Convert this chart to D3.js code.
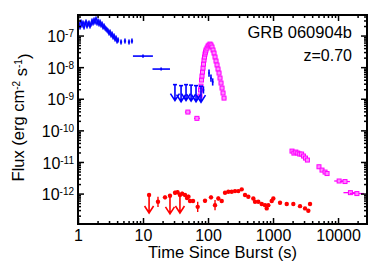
<!DOCTYPE html>
<html>
<head>
<meta charset="utf-8">
<script src="https://cdn.jsdelivr.net/npm/d3@7"></script>
<style>
body { margin: 0; background: #fff; }
text { font-family: "Liberation Sans", Arial, Helvetica, sans-serif; }
</style>
</head>
<body>
<script>
// ---- data ----
// early blue light curve (crosses)
var blueT = [1.036, 1.074, 1.112, 1.152, 1.194, 1.237, 1.282, 1.328, 1.376, 1.426, 1.477, 1.53, 1.586, 1.643, 1.702, 1.764, 1.827, 1.893, 1.962, 2.033,
             2.106, 2.182, 2.261, 2.343, 2.427, 2.515, 2.606, 2.7, 2.797, 2.898, 3.003, 3.111, 3.224, 3.34, 3.461, 3.586, 3.715, 3.849, 3.988, 4.132,
             4.59, 5.28, 6.09, 6.76];
var blueF = [2.31e-7, 1.86e-7, 2.67e-7, 2.15e-7, 2.49e-7, 1.86e-7, 2.31e-7, 2.67e-7, 2.0e-7, 2.31e-7, 2.49e-7, 2.0e-7, 2.31e-7, 2.88e-7, 2.49e-7, 3.09e-7, 2.67e-7, 3.33e-7, 2.49e-7, 2.88e-7,
             2.31e-7, 2.67e-7, 2.15e-7, 2.31e-7, 1.86e-7, 2.0e-7, 1.73e-7, 1.61e-7, 1.49e-7, 1.39e-7, 1.2e-7, 1.29e-7, 1.04e-7, 1.12e-7, 8.99e-8, 9.67e-8, 7.77e-8, 8.36e-8, 6.71e-8, 7.22e-8,
             6.24e-8, 6.71e-8, 6.24e-8, 6.71e-8];
var blueXe = 1.04, blueYe = 1.2;
var blueWideT = [10, 19], blueWideF = [2.24e-8, 8.7e-9], blueWideLo = [7, 14], blueWideHi = [14.2, 26];
var blueLateT = [85, 103.6, 111, 118], blueLateF = [1.9e-9, 6.5e-9, 4.5e-9, 3.4e-9];
var blueUlT = [31, 38.5, 45.9, 54.9, 65.4, 78];
var blueUlF = [2.8e-9, 2.6e-9, 2.8e-9, 2.7e-9, 2.6e-9, 2.5e-9];

// magenta light curve (squares), flare and late tail
var magT = [49, 67.5,
            75.3, 76.7, 78, 79.4, 80.8, 82.3, 83.8, 85.2, 86.8, 88.3, 89.9, 91.5, 93.1, 96.5, 100, 103.6, 107.4,
            111.2, 115.2, 119.4, 123.7, 128.2, 132.8, 137.6, 142.5, 147.7, 153, 158.5, 164.3, 170.2, 176.3,
            1958, 2096, 2244, 2403, 2573, 2754, 2949, 3157, 3380,
            5091, 5670, 6313, 6780,
            10400, 12800, 15500, 19500];
var magF = [3.8e-10, 2.4e-10,
            1.22e-9, 1.89e-9, 2.52e-9, 3.91e-9, 5.23e-9, 7.0e-9, 9.36e-9, 1.25e-8, 1.68e-8, 2.09e-8, 2.6e-8, 3.0e-8, 3.48e-8, 4.02e-8, 4.65e-8, 5.0e-8, 5.38e-8,
            5.0e-8, 4.33e-8, 3.48e-8, 2.79e-8, 2.09e-8, 1.56e-8, 1.17e-8, 8.71e-9, 6.51e-9, 4.52e-9, 3.14e-9, 2.18e-9, 1.52e-9, 1.05e-9,
            2.21e-11, 1.91e-11, 2.06e-11, 1.91e-11, 1.78e-11, 1.78e-11, 1.54e-11, 1.33e-11, 1.15e-11,
            7.05e-12, 5.54e-12, 4.79e-12, 4.3e-12,
            2.5e-12, 2.4e-12, 1.07e-12, 1.0e-12];
var magXe = [1.11, 1.11,
             1.08, 1.08, 1.08, 1.08, 1.08, 1.08, 1.08, 1.08, 1.08, 1.08, 1.08, 1.08, 1.08, 1.08, 1.08, 1.08, 1.08,
             1.08, 1.08, 1.08, 1.08, 1.08, 1.08, 1.08, 1.08, 1.08, 1.08, 1.08, 1.08, 1.08, 1.08,
             1.05, 1.05, 1.05, 1.05, 1.05, 1.05, 1.05, 1.05, 1.05,
             1.07, 1.07, 1.07, 1.07,
             1.19, 1.19, 1.28, 1.28];
var magYe = 1.15;

// red optical points (circles) and upper limits
var redT = [17, 21.8, 31.1, 34, 40, 44.3, 47.5, 50, 52.9, 58.8, 69.4, 89.9, 111.2, 128.2, 144.1, 162.5, 182.6, 205.3, 231.5, 260.3,
            292.6, 330, 371, 417, 497.6, 528.6, 594, 670, 753, 800, 846, 955, 1011, 1282, 1625, 2053, 2603, 3107, 3493, 3709];
var redF = [0.55e-12, 0.76e-12, 1.06e-12, 1.1e-12, 1.0e-12, 0.9e-12, 0.72e-12, 0.8e-12, 0.58e-12, 0.58e-12, 0.38e-12, 0.59e-12, 0.76e-12, 0.43e-12, 0.7e-12, 0.58e-12, 1.06e-12, 1.14e-12, 1.14e-12, 1.2e-12,
            1.2e-12, 1.36e-12, 0.9e-12, 0.79e-12, 0.7e-12, 0.55e-12, 0.55e-12, 0.47e-12, 0.43e-12, 0.34e-12, 0.43e-12, 0.58e-12, 0.7e-12, 0.51e-12, 0.47e-12, 0.47e-12, 0.4e-12, 0.34e-12, 0.285e-12, 0.47e-12];
var redYe = [1.45, 1.15, 1.15, 1.15, 1.15, 1.15, 1.15, 1.15, 1.15, 1.15, 1.45, 1.15, 1.15, 1.45, 1.15, 1.15, 1.1, 1.1, 1.1, 1.1,
             1.1, 1.1, 1.1, 1.1, 1.1, 1.1, 1.1, 1.1, 1.1, 1.1, 1.1, 1.1, 1.1, 1.1, 1.1, 1.1, 1.1, 1.1, 1.1, 1.1];
var redUlT = [12.4, 26, 37];
var redUlF = [0.9e-12, 0.85e-12, 0.9e-12];

var xMajor = [1, 10, 100, 1000, 10000];
var yMajor = [1e-12, 1e-11, 1e-10, 1e-9, 1e-8, 1e-7];

var grbName = "GRB 060904b", grbZ = "z=0.70";

// ---- layout ----
var width = 382, height = 278;
var plotL = 78, plotR = 367, plotT = 15, plotB = 224;

var svg = d3.select("body").append("svg")
    .attr("width", width)
    .attr("height", height);

var x = d3.scaleLog().domain([1, 27900]).range([plotL, plotR]);
var y = d3.scaleLog().domain([1.09e-13, 4.47e-7]).range([plotB, plotT]);

function minorTicks(scale) {
    var dom = scale.domain(), out = [];
    var n0 = Math.floor(Math.log10(dom[0])), n1 = Math.ceil(Math.log10(dom[1]));
    for (var n = n0; n <= n1; n++) {
        for (var k = 2; k <= 9; k++) {
            var v = k * Math.pow(10, n);
            if (v >= dom[0] && v <= dom[1]) out.push(v);
        }
    }
    return out;
}

var blue = "#0000ff", mag = "#ff00ff", red = "#ff0000";

// ---- data marks ----
var plot = svg.append("g");

function crossBars(g, pts, color, sw) {
    var s = g.selectAll(null).data(pts).enter().append("g")
        .attr("stroke", color).attr("stroke-width", sw);
    s.append("line")
        .attr("x1", function (d) { return x(d.lo); })
        .attr("x2", function (d) { return x(d.hi); })
        .attr("y1", function (d) { return y(d.f); })
        .attr("y2", function (d) { return y(d.f); });
    s.append("line")
        .attr("x1", function (d) { return x(d.t); })
        .attr("x2", function (d) { return x(d.t); })
        .attr("y1", function (d) { return y(d.flo); })
        .attr("y2", function (d) { return y(d.fhi); });
    return s;
}

function upperLimits(g, pts, color, len) {
    var s = g.selectAll(null).data(pts).enter().append("g")
        .attr("stroke", color).attr("stroke-width", 1.6).attr("fill", "none");
    s.append("path")
        .attr("d", function (d) {
            var cx = x(d.t), cy = y(d.f), ty = cy + len;
            return "M" + cx + "," + cy + "V" + ty +
                "M" + (cx - 4.5) + "," + (ty - 7) + "L" + cx + "," + ty + "L" + (cx + 4.5) + "," + (ty - 7);
        });
    return s;
}

// magenta
var magPts = magT.map(function (t, i) {
    return { t: t, f: magF[i], lo: t / magXe[i], hi: t * magXe[i], flo: magF[i] / magYe, fhi: magF[i] * magYe };
});
var ms = crossBars(plot, magPts, mag, 1.3);
ms.append("rect")
    .attr("x", function (d) { return x(d.t) - 2; })
    .attr("y", function (d) { return y(d.f) - 2; })
    .attr("width", 4).attr("height", 4)
    .attr("fill", "#ff88ff").attr("stroke-width", 1);

// blue
var bluePts = blueT.map(function (t, i) {
    return { t: t, f: blueF[i], lo: t / blueXe, hi: t * blueXe, flo: blueF[i] / blueYe, fhi: blueF[i] * blueYe };
});
blueWideT.forEach(function (t, i) {
    bluePts.push({ t: t, f: blueWideF[i], lo: blueWideLo[i], hi: blueWideHi[i], flo: blueWideF[i] / 1.12, fhi: blueWideF[i] * 1.12 });
});
blueLateT.forEach(function (t, i) {
    bluePts.push({ t: t, f: blueLateF[i], lo: t / 1.03, hi: t * 1.03, flo: blueLateF[i] / 1.3, fhi: blueLateF[i] * 1.3 });
});
crossBars(plot, bluePts, blue, 1.6);

var blueUl = blueUlT.map(function (t, i) { return { t: t, f: blueUlF[i] }; });
var bu = upperLimits(plot, blueUl, blue, 16);
bu.append("path").attr("d", function (d) {
    var cx = x(d.t), cy = y(d.f);
    return "M" + (cx - 2) + "," + cy + "H" + (cx + 2);
});

// red
var redPts = redT.map(function (t, i) {
    return { t: t, f: redF[i], lo: t, hi: t, flo: redF[i] / redYe[i], fhi: redF[i] * redYe[i] };
});
var rs = crossBars(plot, redPts, red, 1.4);
rs.append("circle")
    .attr("cx", function (d) { return x(d.t); })
    .attr("cy", function (d) { return y(d.f); })
    .attr("r", 2.2)
    .attr("fill", red).attr("stroke", "none");

var redUl = redUlT.map(function (t, i) { return { t: t, f: redUlF[i] }; });
var ru = upperLimits(plot, redUl, red, 18);
ru.append("circle")
    .attr("cx", function (d) { return x(d.t); })
    .attr("cy", function (d) { return y(d.f); })
    .attr("r", 2.2)
    .attr("fill", red).attr("stroke", "none");

// ---- axes ----
function styleAxis(g) {
    g.select(".domain").remove();
    g.selectAll(".tick line").attr("stroke", "#000").attr("stroke-width", 1.5);
    g.selectAll(".tick text").attr("fill", "#000").attr("font-size", "16px")
        .attr("font-family", "Liberation Sans, Arial, sans-serif");
}

svg.append("g").attr("transform", "translate(0," + plotB + ")")
    .call(d3.axisBottom(x).tickValues(xMajor).tickSize(-6).tickPadding(6).tickFormat(d3.format("d")))
    .call(styleAxis);
svg.append("g").attr("transform", "translate(0," + plotB + ")")
    .call(d3.axisBottom(x).tickValues(minorTicks(x)).tickSize(-3).tickFormat(""))
    .call(styleAxis);
svg.append("g").attr("transform", "translate(0," + plotT + ")")
    .call(d3.axisTop(x).tickValues(xMajor).tickSize(-6).tickFormat(""))
    .call(styleAxis);
svg.append("g").attr("transform", "translate(0," + plotT + ")")
    .call(d3.axisTop(x).tickValues(minorTicks(x)).tickSize(-3).tickFormat(""))
    .call(styleAxis);

var yl = svg.append("g").attr("transform", "translate(" + plotL + ",0)")
    .call(d3.axisLeft(y).tickValues(yMajor).tickSize(-6).tickPadding(4))
    .call(styleAxis);
yl.selectAll(".tick text").each(function (d) {
    var t = d3.select(this);
    t.text(null).attr("dy", "0.38em").attr("font-size", "16px");
    t.append("tspan").text("10");
    t.append("tspan").attr("dy", "-0.5em").attr("font-size", "10px").text(Math.round(Math.log10(d)));
});
svg.append("g").attr("transform", "translate(" + plotL + ",0)")
    .call(d3.axisLeft(y).tickValues(minorTicks(y)).tickSize(-3).tickFormat(""))
    .call(styleAxis);
svg.append("g").attr("transform", "translate(" + plotR + ",0)")
    .call(d3.axisRight(y).tickValues(yMajor).tickSize(-6).tickFormat(""))
    .call(styleAxis);
svg.append("g").attr("transform", "translate(" + plotR + ",0)")
    .call(d3.axisRight(y).tickValues(minorTicks(y)).tickSize(-3).tickFormat(""))
    .call(styleAxis);

svg.append("rect")
    .attr("x", plotL).attr("y", plotT)
    .attr("width", plotR - plotL).attr("height", plotB - plotT)
    .attr("fill", "none").attr("stroke", "#000").attr("stroke-width", 2);

// ---- titles ----
svg.append("text")
    .attr("x", (plotL + plotR) / 2).attr("y", 258)
    .attr("text-anchor", "middle").attr("font-size", "16.5px")
    .text("Time Since Burst (s)");

var yt = svg.append("text")
    .attr("transform", "translate(24," + ((plotT + plotB) / 2 - 2) + ") rotate(-90)")
    .attr("text-anchor", "middle").attr("font-size", "16.5px");
yt.append("tspan").text("Flux (erg cm");
yt.append("tspan").attr("dy", "-0.45em").attr("font-size", "10px").text("-2");
yt.append("tspan").attr("dy", "0.45em").text(" s");
yt.append("tspan").attr("dy", "-0.45em").attr("font-size", "10px").text("-1");
yt.append("tspan").attr("dy", "0.45em").text(")");

svg.append("text")
    .attr("x", 352).attr("y", 38)
    .attr("text-anchor", "end").attr("font-size", "16.5px")
    .text(grbName);
svg.append("text")
    .attr("x", 352).attr("y", 61)
    .attr("text-anchor", "end").attr("font-size", "16px")
    .text(grbZ);
</script>
</body>
</html>
